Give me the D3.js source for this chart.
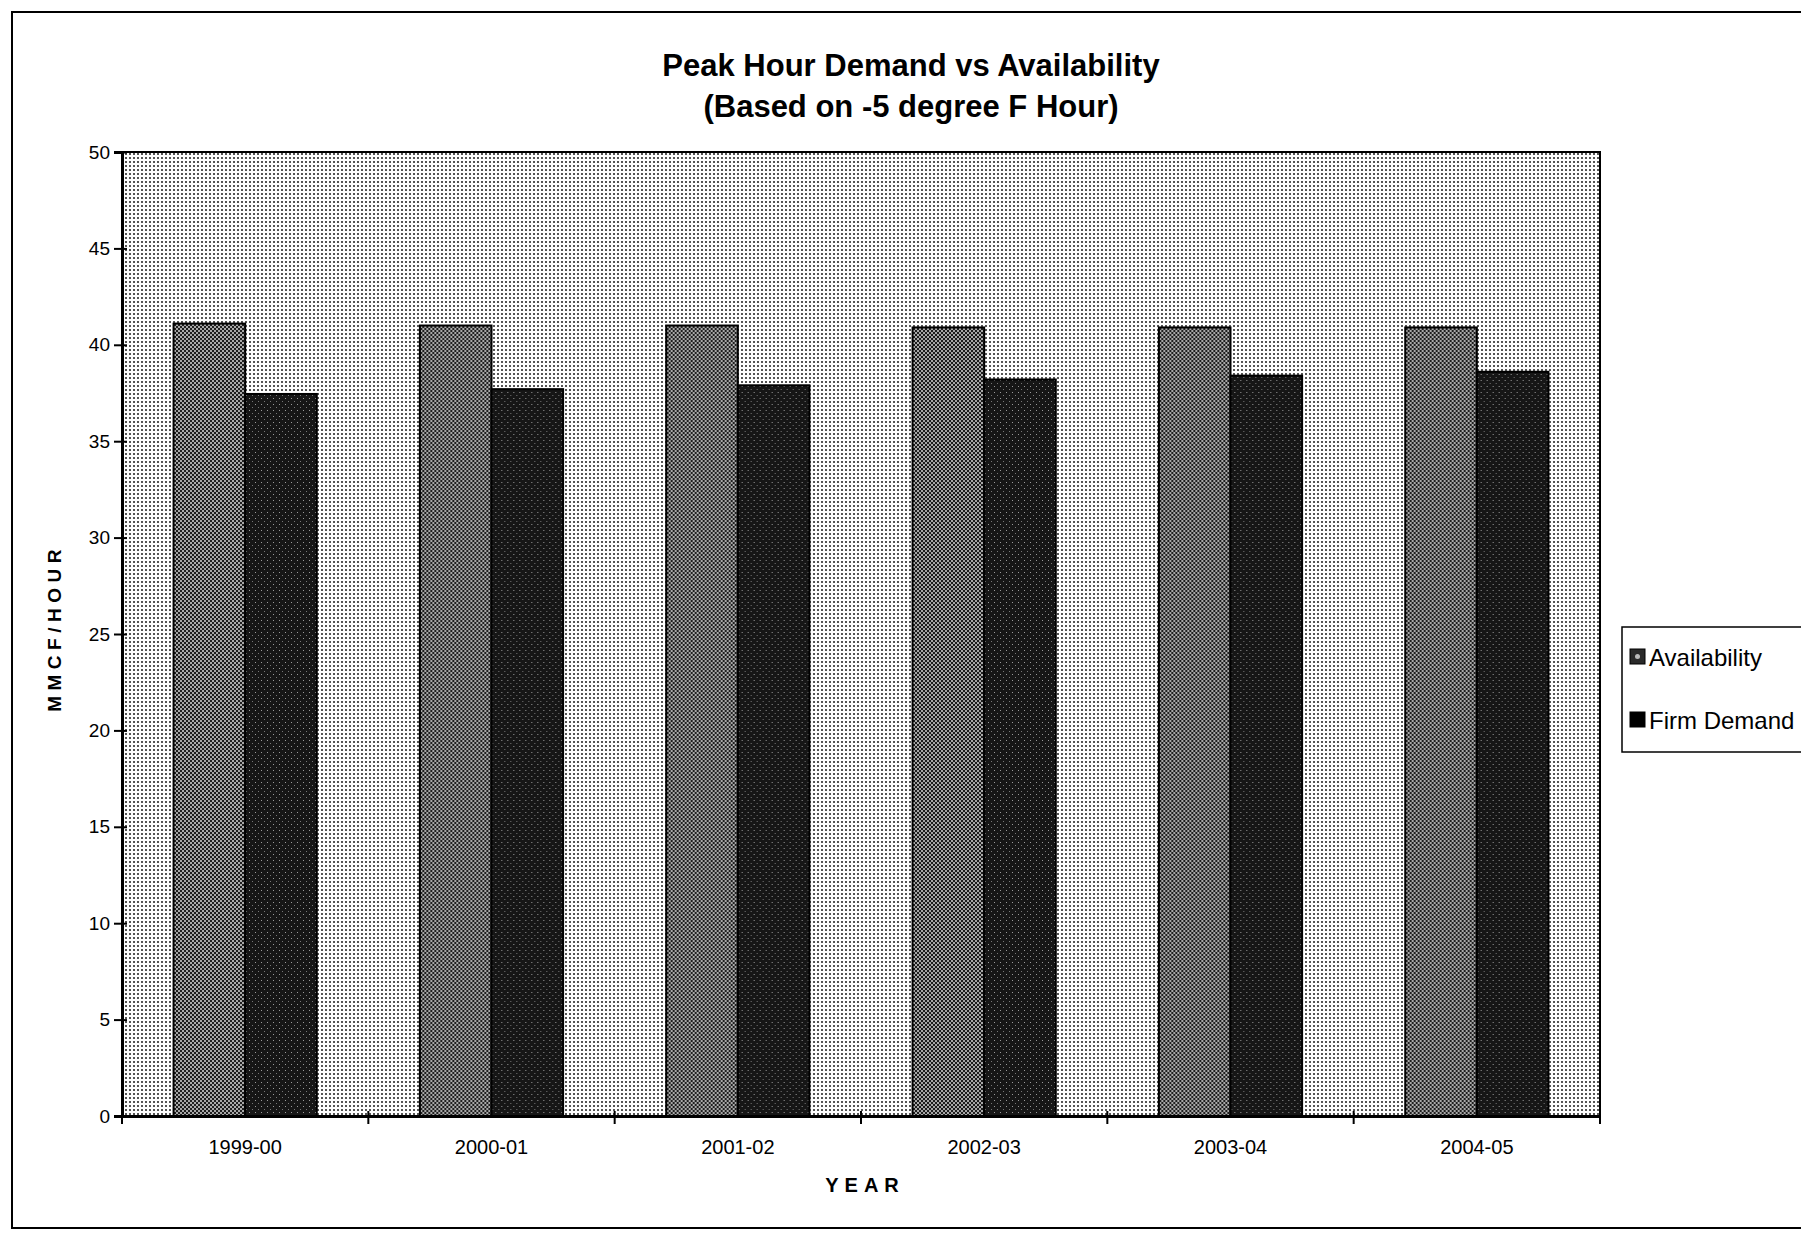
<!DOCTYPE html>
<html>
<head>
<meta charset="utf-8">
<title>Peak Hour Demand vs Availability</title>
<script src="https://cdn.jsdelivr.net/npm/d3@7"></script>
<style>
    body { margin: 0; background: #fff; }
    text { font-family: Arial, "Liberation Sans", sans-serif; fill: #000; }
</style>
</head>
<body>
<div id="chart"></div>
<script>
// chart values
const years = ["1999-00", "2000-01", "2001-02", "2002-03", "2003-04", "2004-05"];
const seriesNames = ["Availability", "Firm Demand"];
const availability = [41.1, 41.0, 41.0, 40.9, 40.9, 40.9];
const firmDemand = [37.45, 37.7, 37.9, 38.2, 38.4, 38.6];
const yTicks = [0, 5, 10, 15, 20, 25, 30, 35, 40, 45, 50];

document.addEventListener('DOMContentLoaded', function() {
    drawChart();
});

function addPattern(defs, id, size, bg, dots) {
    const p = defs.append("pattern")
        .attr("id", id)
        .attr("patternUnits", "userSpaceOnUse")
        .attr("width", size)
        .attr("height", size);
    p.append("rect").attr("width", size).attr("height", size).attr("fill", bg);
    dots.forEach(d => {
        p.append("rect")
            .attr("x", d[0]).attr("y", d[1])
            .attr("width", d[2]).attr("height", d[3])
            .attr("fill", d[4]);
    });
}

function drawChart() {
    const width = 1801, height = 1235;
    const plot = {left: 122, right: 1600, top: 152, bottom: 1116};

    const svg = d3.select("#chart").append("svg")
        .attr("width", width)
        .attr("height", height);

    const defs = svg.append("defs");
    // halftone-ish fills like the printed chart
    addPattern(defs, "bgDots", 4, "#fff", [[1, 1, 2, 2, "#555"]]);
    addPattern(defs, "availFill", 4, "#a8a8a8", [[0, 0, 2, 2, "#1e1e1e"], [2, 2, 2, 2, "#1e1e1e"]]);
    addPattern(defs, "firmFill", 6, "#161616", [[1, 2, 1, 1, "#9a9a9a"], [4, 5, 1, 1, "#777"]]);
    const fills = {"Availability": "url(#availFill)", "Firm Demand": "url(#firmFill)"};

    // outer chart frame
    svg.append("rect")
        .attr("x", 12).attr("y", 12)
        .attr("width", 1812).attr("height", 1216)
        .attr("fill", "none")
        .attr("stroke", "#000")
        .attr("stroke-width", 2);

    // scales
    const x = d3.scaleBand()
        .domain(years)
        .range([plot.left, plot.right])
        .padding(0);

    const xSub = d3.scaleBand()
        .domain(seriesNames)
        .range([0, x.bandwidth()])
        .paddingInner(0)
        .paddingOuter(0.72);

    const y = d3.scaleLinear()
        .domain([0, 50])
        .range([plot.bottom, plot.top]);

    // plot area
    svg.append("rect")
        .attr("x", plot.left).attr("y", plot.top)
        .attr("width", plot.right - plot.left)
        .attr("height", plot.bottom - plot.top)
        .attr("fill", "url(#bgDots)")
        .attr("stroke", "#000")
        .attr("stroke-width", 2);

    // bars
    const rows = years.map((yr, i) => ({
        year: yr,
        values: [
            {key: "Availability", value: availability[i]},
            {key: "Firm Demand", value: firmDemand[i]}
        ]
    }));

    const groups = svg.selectAll(".group")
        .data(rows)
        .enter()
        .append("g")
        .attr("class", "group")
        .attr("transform", d => `translate(${x(d.year)},0)`);

    groups.selectAll("rect")
        .data(d => d.values)
        .enter()
        .append("rect")
        .attr("x", d => xSub(d.key))
        .attr("y", d => y(d.value))
        .attr("width", xSub.bandwidth())
        .attr("height", d => y(0) - y(d.value))
        .attr("fill", d => fills[d.key])
        .attr("stroke", "#000")
        .attr("stroke-width", 2);

    // y axis
    const yAxis = svg.append("g")
        .attr("transform", `translate(${plot.left},0)`)
        .call(d3.axisLeft(y).tickValues(yTicks).tickSize(8).tickPadding(4));
    yAxis.select(".domain").attr("stroke-width", 3);
    yAxis.selectAll(".tick line").attr("x1", 5).attr("stroke-width", 2);
    yAxis.selectAll(".tick text")
        .attr("font-size", 19)
        .attr("font-family", "Arial, 'Liberation Sans', sans-serif");

    // x axis: labels at centres, tick marks on category boundaries
    const xAxis = svg.append("g")
        .attr("transform", `translate(0,${plot.bottom})`)
        .call(d3.axisBottom(x).tickSize(0).tickPadding(24));
    xAxis.select(".domain").attr("stroke-width", 3);
    xAxis.selectAll(".tick text")
        .attr("font-size", 20)
        .attr("font-family", "Arial, 'Liberation Sans', sans-serif");

    const bounds = years.map(d => x(d)).concat([x.range()[1]]);
    xAxis.selectAll(".bound")
        .data(bounds)
        .enter()
        .append("line")
        .attr("class", "bound")
        .attr("x1", d => d).attr("x2", d => d)
        .attr("y1", -5).attr("y2", 8)
        .attr("stroke", "#000")
        .attr("stroke-width", 2);

    // titles
    svg.append("text")
        .attr("x", 911).attr("y", 76)
        .attr("text-anchor", "middle")
        .attr("font-size", 31)
        .attr("font-weight", "bold")
        .text("Peak Hour Demand vs Availability");

    svg.append("text")
        .attr("x", 911).attr("y", 117)
        .attr("text-anchor", "middle")
        .attr("font-size", 31)
        .attr("font-weight", "bold")
        .text("(Based on -5 degree F Hour)");

    svg.append("text")
        .attr("transform", "translate(61,628) rotate(-90)")
        .attr("text-anchor", "middle")
        .attr("font-size", 19)
        .attr("font-weight", "bold")
        .attr("letter-spacing", 5.5)
        .text("MMCF/HOUR");

    svg.append("text")
        .attr("x", (plot.left + plot.right) / 2 + 4)
        .attr("y", 1192)
        .attr("text-anchor", "middle")
        .attr("font-size", 20)
        .attr("font-weight", "bold")
        .attr("letter-spacing", 6)
        .text("YEAR");

    // legend (box runs off the right edge as in the scan)
    const legend = svg.append("g").attr("transform", "translate(1622,627)");
    legend.append("rect")
        .attr("width", 230).attr("height", 125)
        .attr("fill", "#fff")
        .attr("stroke", "#000")
        .attr("stroke-width", 1.5);

    const items = legend.selectAll(".item")
        .data(seriesNames)
        .enter()
        .append("g")
        .attr("class", "item")
        .attr("transform", (d, i) => `translate(8,${22 + i * 63})`);

    items.append("rect")
        .attr("width", 15).attr("height", 15)
        .attr("fill", d => d === "Availability" ? "#2a2a2a" : "#000")
        .attr("stroke", "#000")
        .attr("stroke-width", 1);

    items.filter(d => d === "Availability")
        .append("circle")
        .attr("cx", 7.5).attr("cy", 7.5).attr("r", 2.5)
        .attr("fill", "#bbb");

    items.append("text")
        .attr("x", 19).attr("y", 17)
        .attr("font-size", 24)
        .text(d => d);
}
</script>
</body>
</html>
